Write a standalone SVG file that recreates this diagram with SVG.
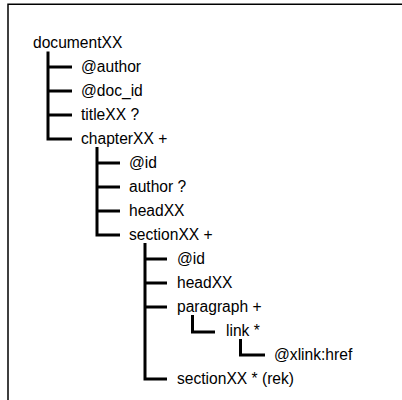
<svg xmlns="http://www.w3.org/2000/svg" width="402" height="400" viewBox="0 0 402 400">
<style>
text{font-family:"Liberation Sans",Arial,sans-serif;font-size:15.6px;fill:#000}
.c{fill:none;stroke:#000;stroke-width:3;stroke-linejoin:miter;stroke-linecap:butt}
.f{fill:none;stroke:#000;stroke-width:1.5}
</style>
<rect width="402" height="400" fill="#fff"/>
<path class="f" d="M8 405V4.3H405"/>
<g id="connectors">
<path class="c" d="M48 51.5V139H72M48 67H72M48 91H72M48 115H72"/>
<path class="c" d="M97 147V235H120M97 163H120M97 187H120M97 211H120"/>
<path class="c" d="M145 243V379H167M145 259H167M145 283H167M145 307H167"/>
<path class="c" d="M192.5 315V332H215"/>
<path class="c" d="M240.5 339V355H265"/>
</g>
<g id="n-document"><text x="33" y="47.5">documentXX</text></g>
<g id="n-author-attr"><text x="81" y="71.5">@author</text></g>
<g id="n-doc_id"><text x="81" y="95.5">@doc_id</text></g>
<g id="n-title"><text x="81" y="119.5">titleXX ?</text></g>
<g id="n-chapter"><text x="81" y="143.5">chapterXX +</text></g>
<g id="n-chapter-id"><text x="129" y="167.5">@id</text></g>
<g id="n-chapter-author"><text x="129" y="191.5">author ?</text></g>
<g id="n-chapter-head"><text x="129" y="215.5">headXX</text></g>
<g id="n-section"><text x="129" y="239.5">sectionXX +</text></g>
<g id="n-section-id"><text x="177" y="263.5">@id</text></g>
<g id="n-section-head"><text x="177" y="287.5">headXX</text></g>
<g id="n-paragraph"><text x="177" y="311.5">paragraph +</text></g>
<g id="n-link"><text x="226" y="335.5">link *</text></g>
<g id="n-xlink"><text x="274" y="359.5">@xlink:href</text></g>
<g id="n-section-rek"><text x="177" y="383.5">sectionXX * (rek)</text></g>
</svg>
